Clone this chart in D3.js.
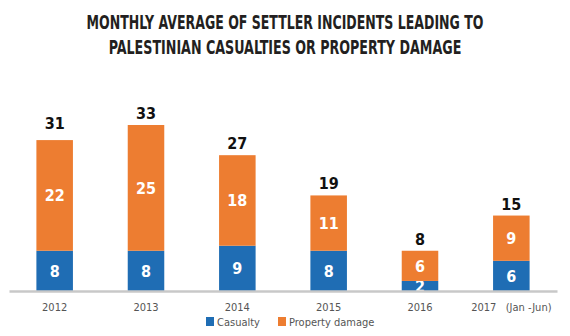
<!DOCTYPE html>
<html>
<head>
<meta charset="utf-8">
<script src="https://cdn.jsdelivr.net/npm/d3@7"></script>
<style>
  body { margin: 0; background: #fff; }
</style>
</head>
<body>
<div id="chart"></div>
<script>
// data
const years = ["2012", "2013", "2014", "2015", "2016", "2017"];
const yearLabels = ["2012", "2013", "2014", "2015", "2016", "2017\u00a0\u00a0\u00a0(Jan -Jun)"];
const casualty = [8, 8, 9, 8, 2, 6];
const propertyDamage = [22, 25, 18, 11, 6, 9];
const totals = [31, 33, 27, 19, 8, 15];
const seriesNames = ["Casualty", "Property damage"];
const titleLines = ["MONTHLY AVERAGE OF SETTLER INCIDENTS LEADING TO", "PALESTINIAN CASUALTIES OR PROPERTY DAMAGE"];

const width = 570, height = 336;
const blue = "#1f6db4", orange = "#ed7d31";
const font = "'DejaVu Sans Condensed', 'DejaVu Sans'";

const svg = d3.select("#chart").append("svg")
    .attr("width", width)
    .attr("height", height);

// title - the original uses a narrow heavy face, so squeeze it horizontally
const titleWidth = [397, 353];
titleLines.forEach((t, i) => {
    const g = svg.append("g");
    const txt = g.append("text")
        .attr("x", 0)
        .attr("y", 0)
        .attr("text-anchor", "middle")
        .attr("font-family", font)
        .attr("font-weight", "bold")
        .attr("font-size", 19)
        .attr("fill", "#231f20")
        .text(t);
    const k = titleWidth[i] / txt.node().getComputedTextLength();
    g.attr("transform", "translate(285," + (29 + i * 25) + ") scale(" + k + ",1)");
});

const x = d3.scaleBand().domain(years).range([9, 557]).paddingInner(0.6).paddingOuter(0.3);
const y = d3.scaleLinear().domain([0, 33]).range([291, 125]);

const rows = years.map((yr, i) => ({year: yr, casualty: casualty[i], property: propertyDamage[i], total: totals[i]}));
const stack = d3.stack().keys(["casualty", "property"])(rows);
const colors = [blue, orange];

stack.forEach((layer, k) => {
    svg.append("g").selectAll("rect")
        .data(layer)
        .join("rect")
        .attr("x", d => x(d.data.year))
        .attr("width", x.bandwidth())
        .attr("y", d => y(d[1]))
        .attr("height", d => y(d[0]) - y(d[1]))
        .attr("fill", colors[k]);

    svg.append("g").selectAll("text")
        .data(layer)
        .join("text")
        .attr("x", d => x(d.data.year) + x.bandwidth() / 2)
        .attr("y", d => (y(d[0]) + y(d[1])) / 2 + 6)
        .attr("text-anchor", "middle")
        .attr("font-family", font)
        .attr("font-weight", "bold")
        .attr("font-size", 16)
        .attr("fill", "#fff")
        .text(d => d.data[layer.key]);
});

// totals
svg.append("g").selectAll("text")
    .data(rows)
    .join("text")
    .attr("x", d => x(d.year) + x.bandwidth() / 2)
    .attr("y", d => y(d.total) - 6)
    .attr("text-anchor", "middle")
    .attr("font-family", font)
    .attr("font-weight", "bold")
    .attr("font-size", 16)
    .attr("fill", "#111")
    .text(d => d.total);

// axis
const axis = svg.append("g")
    .attr("transform", "translate(0,291)")
    .call(d3.axisBottom(x).tickSize(0).tickFormat((d, i) => yearLabels[i]));
axis.select(".domain").attr("stroke", "#c8c8c8").attr("stroke-width", 2.5);
axis.selectAll("text")
    .attr("dy", 0)
    .attr("y", 20)
    .attr("font-family", font)
    .attr("font-size", 11)
    .attr("fill", "#555");

// legend
const legend = svg.append("g").attr("transform", "translate(206,322)");
const legX = [0, 72];
seriesNames.forEach((name, i) => {
    const g = legend.append("g").attr("transform", "translate(" + legX[i] + ",0)");
    g.append("rect").attr("x", 0).attr("y", -5).attr("width", 8).attr("height", 9).attr("fill", colors[i]);
    g.append("text").attr("x", 11).attr("y", 4)
        .attr("font-family", font)
        .attr("font-size", 11)
        .attr("fill", "#555")
        .text(name);
});
</script>
</body>
</html>
